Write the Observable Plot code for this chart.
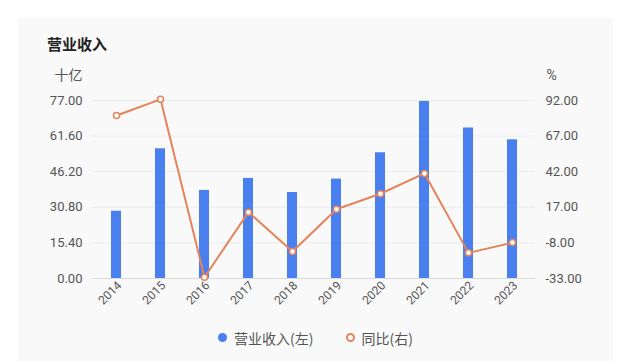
<!DOCTYPE html>
<html>
<head>
<meta charset="utf-8">
<script src="https://cdn.jsdelivr.net/npm/d3@7"></script>
<script src="https://cdn.jsdelivr.net/npm/@observablehq/plot@0.6"></script>
<style>
  html, body { margin: 0; padding: 0; background: #ffffff; }
  body { width: 624px; height: 361px; position: relative; overflow: hidden;
         font-family: Roboto, "Noto Sans CJK SC", sans-serif; }
  #card { position: absolute; left: 18px; top: 18px; width: 595px; height: 343px; background: #f9f9f9; }
  #title { position: absolute; left: 47px; top: 33px; font-size: 15px; line-height: 22px; font-weight: bold;
           color: #222; font-family: "Noto Sans CJK SC", sans-serif; }
  #chart { position: absolute; left: 0; top: 60px; }
  #legend { position: absolute; left: 0; top: 326px; width: 631px; text-align: center; font-size: 14px;
            line-height: 20px; color: #555; font-family: "Noto Sans CJK SC", sans-serif; }
  .item { display: inline-flex; align-items: center; margin: 0 16px; }
  .sw { display: inline-block; width: 9px; height: 9px; border-radius: 50%; margin-right: 7px; box-sizing: border-box; }
</style>
</head>
<body>
<div id="card"></div>
<div id="title">营业收入</div>
<div id="chart"></div>
<div id="legend"></div>
<script>
const years = ["2014","2015","2016","2017","2018","2019","2020","2021","2022","2023"];
const revenue = [29.1, 56.1, 38.1, 43.3, 37.2, 43.0, 54.4, 76.6, 65.1, 60.0];
const yoy = [81.5, 92.8, -32.1, 13.6, -14.1, 15.6, 26.5, 40.8, -15.0, -7.8];
const leftTicks = [0, 15.4, 30.8, 46.2, 61.6, 77];
const rightTicks = [-33, -8, 17, 42, 67, 92];
const seriesNames = ["营业收入(左)", "同比(右)"];
const units = ["十亿", "%"];

const blue = "#4a7ff0";
const orange = "#e3845a";
const rMin = rightTicks[0], rMax = rightTicks[rightTicks.length - 1];
const lMax = leftTicks[leftTicks.length - 1];
const toLeft = v => (v - rMin) / (rMax - rMin) * lMax;
const fromLeft = v => v / lMax * (rMax - rMin) + rMin;

const data = years.map((y, i) => ({year: y, revenue: revenue[i], yoy: yoy[i]}));

const chart = Plot.plot({
  width: 624,
  height: 260,
  marginTop: 40,
  marginBottom: 42,
  marginLeft: 92,
  marginRight: 89,
  style: {background: "transparent", fontFamily: "Roboto, 'Noto Sans CJK SC', sans-serif", fontSize: "13px", color: "#555"},
  x: {domain: years, padding: 0, axis: null},
  y: {domain: [0, lMax], axis: null},
  marks: [
    Plot.ruleY(leftTicks.slice(1), {stroke: "#ececec", strokeWidth: 1}),
    Plot.ruleY([0], {stroke: "#dcdcdc", strokeWidth: 1}),
    Plot.barY(data, {x: "year", y: "revenue", fill: blue, insetLeft: 17, insetRight: 17}),
    Plot.line(data, {x: "year", y: d => toLeft(d.yoy), stroke: orange, strokeWidth: 2}),
    Plot.dot(data, {x: "year", y: d => toLeft(d.yoy), r: 3, fill: "white", stroke: orange, strokeWidth: 1.5}),
    Plot.axisY(leftTicks, {anchor: "left", tickSize: 0, tickPadding: 10, tickFormat: d => d.toFixed(2), label: null, fill: "#555", fontSize: 13}),
    Plot.axisY(rightTicks.map(toLeft), {anchor: "right", tickSize: 0, tickPadding: 10, tickFormat: d => fromLeft(d).toFixed(2), label: null, fill: "#555", fontSize: 13}),
    Plot.axisX({tickSize: 0, tickPadding: 5, tickRotate: -45, fontSize: 12, dx: 3, label: null, fill: "#555"}),
    Plot.text([units[0]], {frameAnchor: "top-left", dx: -24, dy: -25, textAnchor: "middle", lineAnchor: "middle", fontSize: 14, fill: "#555", fontFamily: "'Noto Sans CJK SC', sans-serif"}),
    Plot.text([units[1]], {frameAnchor: "top-right", dx: 16, dy: -25, textAnchor: "middle", lineAnchor: "middle", fontSize: 14, fill: "#555"})
  ]
});
document.getElementById("chart").appendChild(chart);

const legend = document.getElementById("legend");
legend.innerHTML =
  `<span class="item"><span class="sw" style="background:${blue}"></span>${seriesNames[0]}</span>` +
  `<span class="item"><span class="sw" style="border:2px solid ${orange};background:#fff"></span>${seriesNames[1]}</span>`;
</script>
</body>
</html>
